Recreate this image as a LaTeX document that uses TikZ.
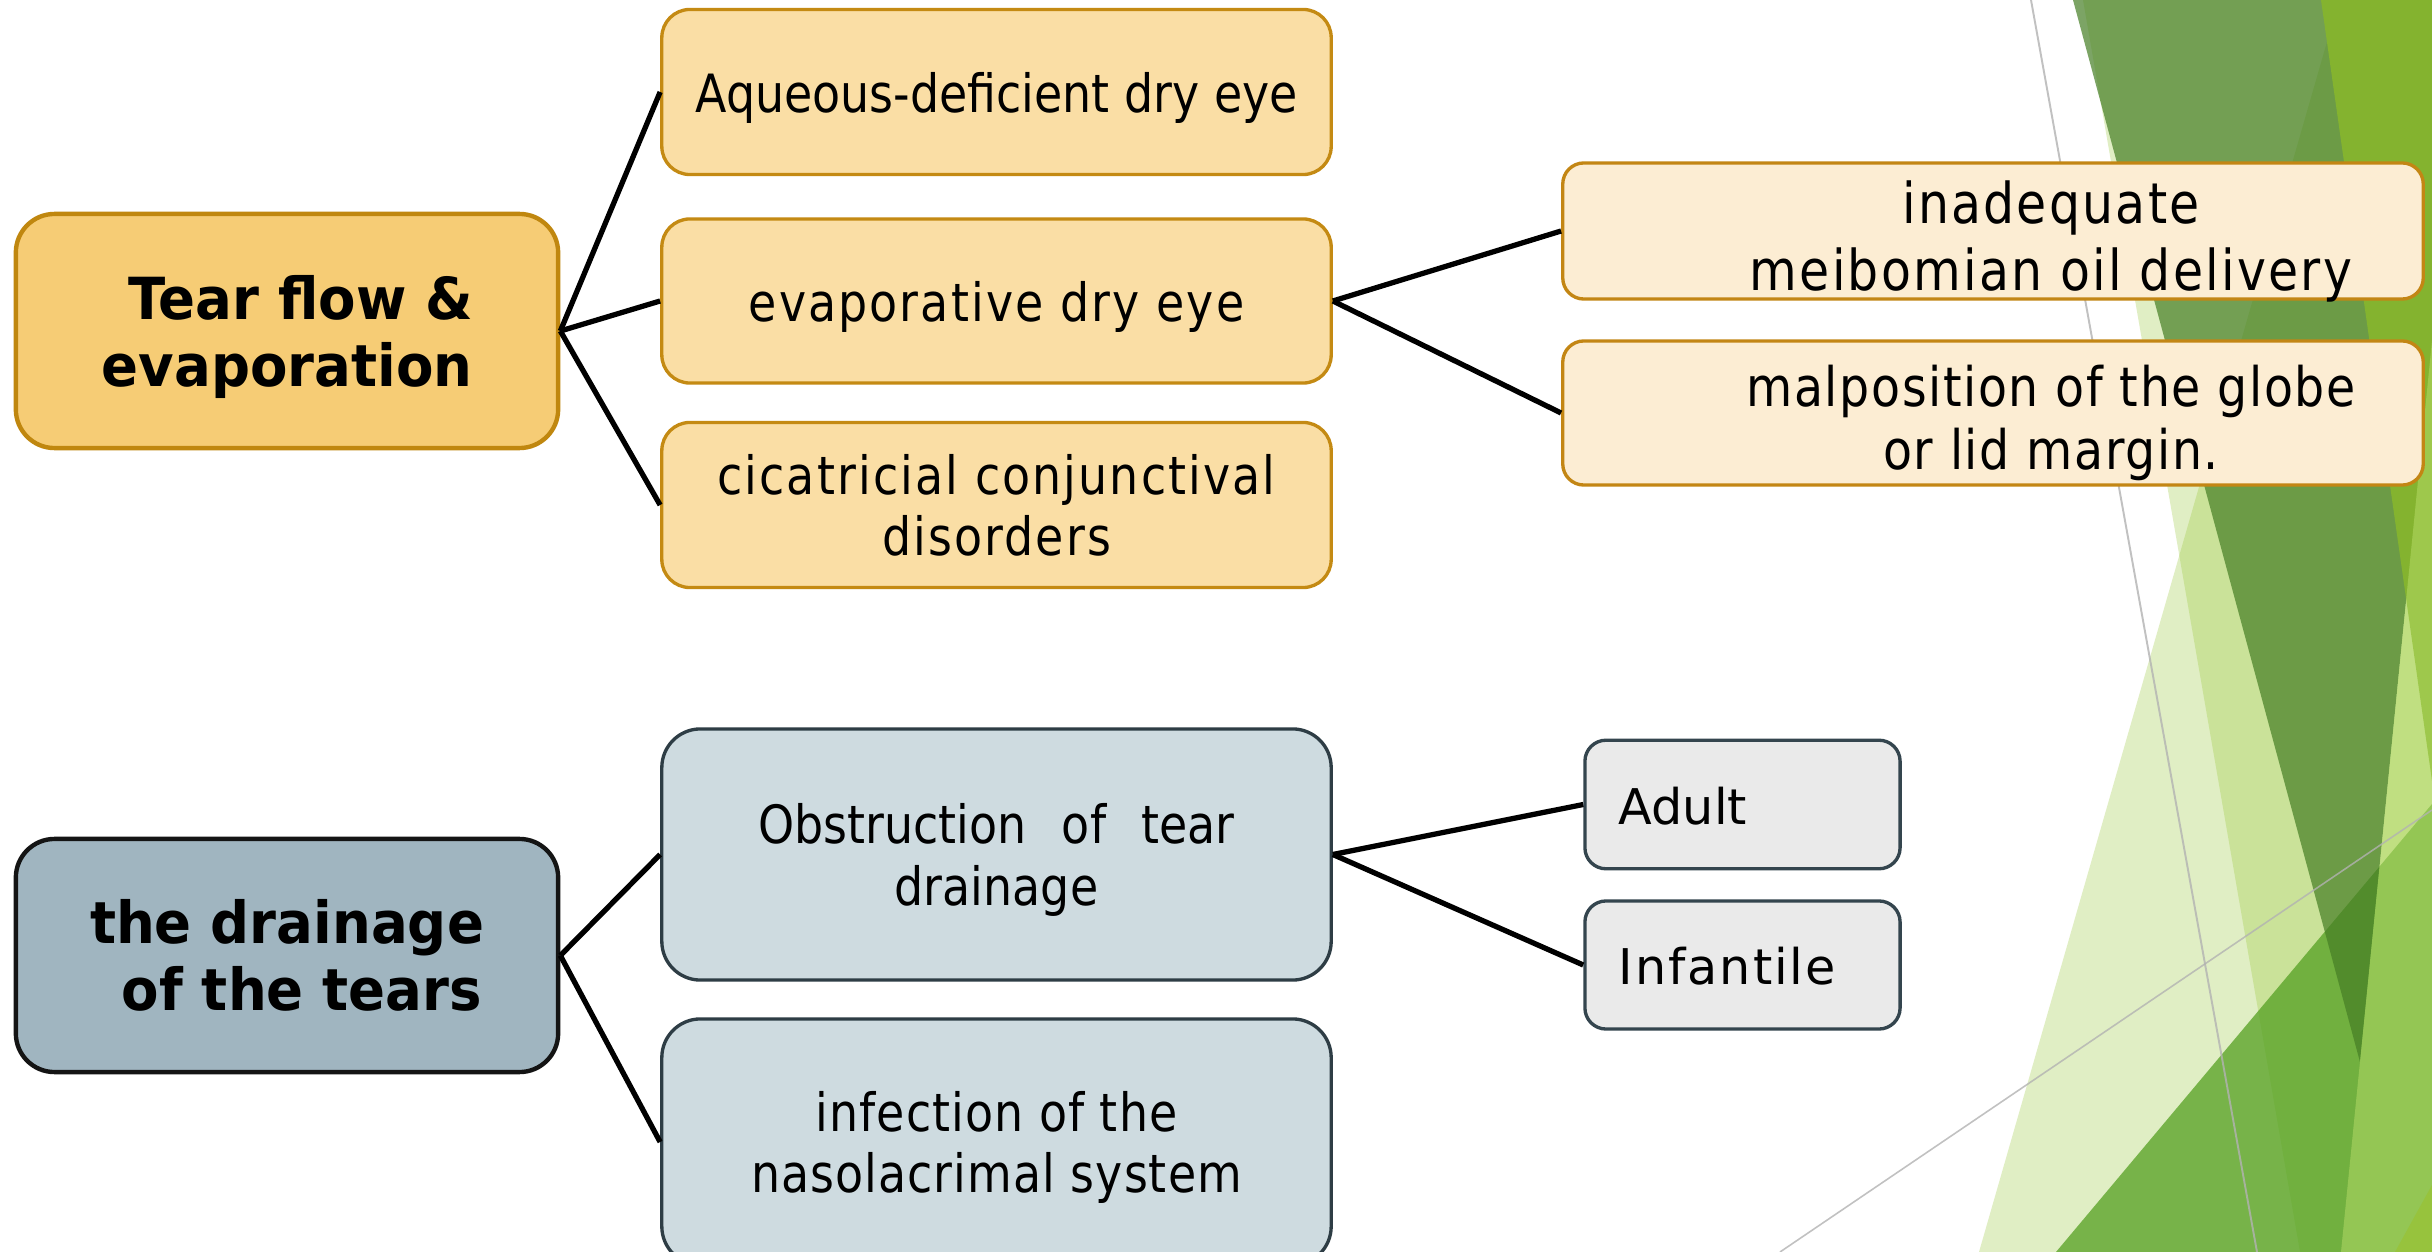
\documentclass[tikz,border=0pt]{standalone}
\usepackage{fontspec}
\setmainfont{DejaVu Sans}
\newfontfamily\kidN[FakeStretch=0.87]{DejaVu Sans}
\newfontfamily\kidS[FakeStretch=0.87,LetterSpace=4]{DejaVu Sans}
\newfontfamily\kidSS[FakeStretch=0.87,LetterSpace=2]{DejaVu Sans}
\newfontfamily\kidM[FakeStretch=0.87,LetterSpace=3]{DejaVu Sans}
\newfontfamily\headF[FakeStretch=0.94]{DejaVu Sans}
\newfontfamily\leafN{DejaVu Sans}
\newfontfamily\leafS[LetterSpace=4]{DejaVu Sans}
\definecolor{tearfill}{HTML}{F6CC75}
\definecolor{tearline}{HTML}{C0870F}
\definecolor{kidfill}{HTML}{FADEA5}
\definecolor{kidline}{HTML}{C48A13}
\definecolor{palefill}{HTML}{FCEDD3}
\definecolor{paleline}{HTML}{C38614}
\definecolor{drainfill}{HTML}{A0B5C0}
\definecolor{drainline}{HTML}{141414}
\definecolor{obstfill}{HTML}{CEDBE0}
\definecolor{obstline}{HTML}{2E3D45}
\definecolor{leaffill}{HTML}{EAEAEA}
\definecolor{leafline}{HTML}{34454E}
\definecolor{gacc}{HTML}{90C226}
\definecolor{gdark}{HTML}{457E24}
\definecolor{gmid}{HTML}{54A021}
\definecolor{gbright}{HTML}{84B32F}
\definecolor{glight}{HTML}{B8DD6A}
\definecolor{gyellow}{HTML}{97C33D}
\tikzset{
  mainbox/.style={rectangle, rounded corners=11pt, line width=1.25pt, inner sep=0pt, align=center,
    font={\headF\bfseries\fontsize{16.5}{19}\selectfont}},
  tearbox/.style={mainbox, draw=tearline, fill=tearfill, minimum width=5.42cm, minimum height=2.34cm, text depth=0pt},
  drainbox/.style={mainbox, draw=drainline, fill=drainfill, minimum width=5.42cm, minimum height=2.33cm},
  kidbox/.style={rectangle, rounded corners=8pt, line width=0.95pt, draw=kidline, fill=kidfill,
    inner sep=0pt, align=center, minimum width=6.69cm, minimum height=1.65cm, text depth=0pt},
  palebox/.style={rectangle, rounded corners=6pt, line width=0.95pt, draw=paleline, fill=palefill,
    inner sep=0pt, minimum width=8.6cm},
  obstbox/.style={rectangle, rounded corners=11pt, line width=0.95pt, draw=obstline, fill=obstfill,
    inner sep=0pt, align=center, minimum width=6.69cm, text depth=0pt},
  leafbox/.style={rectangle, rounded corners=6pt, line width=0.95pt, draw=leafline, fill=leaffill,
    inner sep=0pt, minimum width=3.15cm, minimum height=1.285cm},
  kidtext/.style={font={\kidN\fontsize{15}{17.5}\selectfont}},
  txt/.style={inner sep=0pt, align=center, text depth=0pt},
  conn/.style={draw=black, line width=1.5pt},
  bgline/.style={draw=black!30, opacity=0.8}
}
\begin{document}
\begin{tikzpicture}[x=0.01cm, y=-0.01cm]
\useasboundingbox (0,0) rectangle (2432,1252);
\fill[white] (0,0) rectangle (2432,1252);
% background facets
\begin{scope}
  \clip (0,0) rectangle (2432,1252);
  \fill[gacc, opacity=0.27] (2339,0) -- (2520,0) -- (2520,1252) -- (1979,1252) -- cycle;
  \fill[gacc, opacity=0.27] (2083,0) -- (2520,0) -- (2520,1252) -- (2300,1252) -- cycle;
  \fill[gmid, opacity=0.75] (2056,1252) -- (2432,804) -- (2520,804) -- (2520,1252) -- cycle;
  \fill[gdark, opacity=0.7] (2073,0) -- (2466,0) -- (2360,1062) -- cycle;
  \fill[gbright] (2321,0) -- (2520,0) -- (2520,1400) -- cycle;
  \fill[glight, opacity=0.5] (2466,0) -- (2520,0) -- (2520,1252) -- (2341,1252) -- cycle;
  \fill[gyellow] (2395,1252) -- (2432,1185) -- (2520,1185) -- (2520,1252) -- cycle;
  \draw[bgline, line width=0.55pt] (2031,0) -- (2257,1252);
  \draw[bgline, line width=0.45pt] (1780,1252) -- (2432,810);
\end{scope}
% upper tree
\node[tearbox] (tear) at (287,331) {\hspace*{8pt}Tear flow \&\\evaporation};
\node[kidbox, kidtext] (aq) at (996.5,92) {Aqueous-deficient dry eye};
\node[kidbox, font={\kidS\fontsize{15}{17.5}\selectfont}, minimum height=1.64cm] (evap) at (996.5,301) {evaporative dry eye};
\node[kidbox, font={\kidS\fontsize{15}{17.5}\selectfont}] (cic) at (996.5,505) {cicatricial conjunctival\\disorders};
\node[palebox, minimum height=1.36cm] (inad) at (1993,231) {};
\node[txt, font={\kidS\fontsize{16}{19}\selectfont}] (inadT) at (2051,236) {inadequate\\meibomian oil delivery};
\node[palebox, minimum height=1.44cm] (malp) at (1993,413) {};
\node[txt, font={\kidM\fontsize{15.5}{18}\selectfont}] (malpT) at (2051,417) {malposition of the globe\\or lid margin.};
\draw[conn] (tear.east) -- (aq.west);
\draw[conn] (tear.east) -- (evap.west);
\draw[conn] (tear.east) -- (cic.west);
\draw[conn] (evap.east) -- (inad.west);
\draw[conn] (evap.east) -- (malp.west);
% lower tree
\node[drainbox] (drain) at (287,955.5) {the drainage\\\hspace*{8.5pt}of the tears};
\node[obstbox, kidtext, minimum height=2.51cm] (obst) at (996.5,854.5) {Obstruction\hspace{10pt}of\hspace{10pt}tear\\drainage};
\node[obstbox, font={\kidSS\fontsize{15}{17.5}\selectfont}, minimum height=2.46cm] (infec) at (996.5,1142) {infection of the\\nasolacrimal system};
\node[leafbox] (adult) at (1742.5,804.5) {};
\node[txt, anchor=west, font={\leafN\fontsize{14}{16}\selectfont}, text depth=] (adultT) at (1618,806) {Adult};
\node[leafbox, minimum height=1.28cm] (infant) at (1742.5,965) {};
\node[txt, anchor=west, font={\leafS\fontsize{14}{16}\selectfont}, text depth=] (infantT) at (1618,966) {Infantile};
\draw[conn] (drain.east) -- (obst.west);
\draw[conn] (drain.east) -- (infec.west);
\draw[conn] (obst.east) -- (adult.west);
\draw[conn] (obst.east) -- (infant.west);
\end{tikzpicture}
\end{document}
